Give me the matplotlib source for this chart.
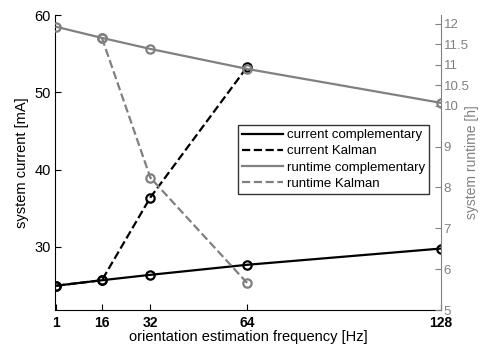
import numpy as np
import matplotlib.pyplot as plt
from matplotlib.lines import Line2D

plt.rcParams['font.family'] = ['Liberation Sans', 'DejaVu Sans']

freq = [1, 16, 32, 64, 128]
current_comp = [25.0, 25.7, 26.4, 27.7, 29.8]
freq_kal = [1, 16, 32, 64]
current_kal = [25.0, 25.7, 36.4, 53.3]
runtime_comp = [11.93, 11.66, 11.39, 10.9, 10.07]
freq_rt_kal = [16, 32, 64]
runtime_kal = [11.66, 8.24, 5.66]

xticks = [1, 16, 32, 64, 128]
rticks = [5, 6, 7, 8, 9, 10, 10.5, 11, 11.5, 12]
gray = '#808080'

fig = plt.figure(figsize=(4.84, 3.45), dpi=100)
ax = fig.add_axes([0.1136, 0.1014, 0.7975, 0.8551])
ax2 = ax.twinx()

ax.plot(freq, current_comp, '-o', color='black', lw=1.6, ms=6, mfc='none', mew=1.6)
ax.plot(freq_kal, current_kal, '--o', color='black', lw=1.6, ms=6, mfc='none', mew=1.6)
ax2.plot(freq, runtime_comp, '-o', color=gray, lw=1.6, ms=6, mfc='none', mew=1.6)
ax2.plot(freq_rt_kal, runtime_kal, '--o', color=gray, lw=1.6, ms=6, mfc='none', mew=1.6)

ax.set_xlim(0.5, 128)
ax.set_ylim(21.85, 60)
ax2.set_ylim(5, 12.22)

ax.set_xticks(xticks)
ax.set_xticklabels([str(t) for t in xticks], fontweight='bold', fontsize=10)
ax.set_yticks([30, 40, 50, 60])
ax.tick_params(axis='y', labelsize=10.5, direction='in', length=4, pad=3)
ax.tick_params(axis='x', direction='in', length=4, pad=4)
ax2.set_yticks(rticks)
ax2.set_yticklabels([('%g' % t) for t in rticks])
ax2.tick_params(axis='y', labelsize=9.5, direction='in', length=4, pad=2, colors=gray)

ax.set_xlabel('orientation estimation frequency [Hz]', fontsize=10.5, labelpad=0)
ax.set_ylabel('system current [mA]', fontsize=10.5, labelpad=4)
ax2.set_ylabel('system runtime [h]', fontsize=10, color=gray)
ax2.yaxis.set_label_coords(1.063, 0.5)

for a in (ax, ax2):
    a.spines['top'].set_visible(False)
ax2.spines['left'].set_visible(False)
ax2.spines['bottom'].set_visible(False)
ax.spines['right'].set_visible(False)
ax2.spines['right'].set_color(gray)

handles = [
    Line2D([], [], color='black', lw=1.6, ls='-'),
    Line2D([], [], color='black', lw=1.6, ls='--'),
    Line2D([], [], color=gray, lw=1.6, ls='-'),
    Line2D([], [], color=gray, lw=1.6, ls='--'),
]
labels = ['current complementary', 'current Kalman',
          'runtime complementary', 'runtime Kalman']
leg = ax2.legend(handles, labels, loc='upper right', bbox_to_anchor=(0.969, 0.627),
                 fontsize=9.5, frameon=True, fancybox=False, edgecolor='black',
                 handlelength=3.1, borderpad=0.3, borderaxespad=0,
                 labelspacing=0.3, handletextpad=0.3)
leg.get_frame().set_linewidth(1.0)

fig.savefig('out.png', dpi=100)
